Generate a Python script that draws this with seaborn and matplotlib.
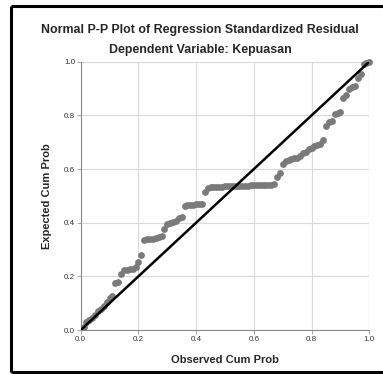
import numpy as np
import pandas as pd
import matplotlib
matplotlib.use("Agg")
import matplotlib.pyplot as plt
from matplotlib.lines import Line2D
import seaborn as sns

# observed vs expected cumulative probabilities
observed = [
    0.01, 0.02, 0.03, 0.04, 0.05, 0.06, 0.07, 0.08, 0.09, 0.10,
    0.11, 0.12, 0.13, 0.14, 0.15, 0.16, 0.17, 0.18, 0.19, 0.20,
    0.21, 0.22, 0.23, 0.24, 0.25, 0.26, 0.27, 0.28, 0.29, 0.30,
    0.31, 0.32, 0.33, 0.34, 0.35, 0.36, 0.37, 0.38, 0.39, 0.40,
    0.41, 0.42, 0.43, 0.44, 0.45, 0.46, 0.47, 0.48, 0.49, 0.50,
    0.51, 0.52, 0.53, 0.54, 0.55, 0.56, 0.57, 0.58, 0.59, 0.60,
    0.61, 0.62, 0.63, 0.64, 0.65, 0.66, 0.67, 0.68, 0.69, 0.70,
    0.71, 0.72, 0.73, 0.74, 0.75, 0.76, 0.77, 0.78, 0.79, 0.80,
    0.81, 0.82, 0.83, 0.84, 0.85, 0.86, 0.87, 0.88, 0.89, 0.90,
    0.91, 0.92, 0.93, 0.94, 0.95, 0.96, 0.97, 0.98, 0.99, 1.00,
]
expected = [
    0.010, 0.030, 0.037, 0.045, 0.055, 0.070, 0.080, 0.090, 0.105, 0.118,
    0.125, 0.175, 0.178, 0.210, 0.222, 0.225, 0.226, 0.228, 0.235, 0.255,
    0.280, 0.335, 0.338, 0.340, 0.340, 0.342, 0.345, 0.350, 0.375, 0.395,
    0.400, 0.402, 0.408, 0.418, 0.420, 0.463, 0.465, 0.466, 0.467, 0.468,
    0.470, 0.470, 0.515, 0.530, 0.532, 0.533, 0.533, 0.534, 0.534, 0.535,
    0.535, 0.535, 0.536, 0.536, 0.537, 0.537, 0.538, 0.538, 0.539, 0.539,
    0.540, 0.540, 0.541, 0.541, 0.542, 0.542, 0.545, 0.570, 0.585, 0.620,
    0.630, 0.635, 0.637, 0.640, 0.642, 0.650, 0.660, 0.665, 0.675, 0.680,
    0.685, 0.690, 0.695, 0.710, 0.760, 0.775, 0.780, 0.805, 0.810, 0.812,
    0.865, 0.875, 0.900, 0.905, 0.910, 0.940, 0.955, 0.990, 0.995, 1.000,
]
ref_line = [0.0, 1.0]
ticks = [0.0, 0.2, 0.4, 0.6, 0.8, 1.0]
tick_labels = ["0.0", "0.2", "0.4", "0.6", "0.8", "1.0"]

sns.set_theme(style="white")
plt.rcParams["font.family"] = ["Liberation Sans", "DejaVu Sans"]

df = pd.DataFrame({"observed": observed, "expected": expected})

fig = plt.figure(figsize=(3.83, 3.74), dpi=100)
ax = fig.add_axes([0.2107, 0.1176, 0.7536, 0.7174])

sns.scatterplot(data=df, x="observed", y="expected", ax=ax,
                color="#7a7a7a", s=24, linewidth=0, zorder=3, clip_on=False)
sns.lineplot(x=ref_line, y=ref_line, ax=ax, color="black",
             linewidth=1.8, zorder=4)

ax.set_xlim(0, 1)
ax.set_ylim(0, 1)
ax.set_xticks(ticks)
ax.set_yticks(ticks)
ax.set_xticklabels(tick_labels)
ax.set_yticklabels(tick_labels)
ax.grid(True, color="#d9d9d9", linewidth=0.8)
ax.set_axisbelow(True)
ax.tick_params(labelsize=5.8, colors="#333333", length=3, width=0.6,
               pad=1, bottom=True, left=True)
ax.tick_params(axis="both", color="#999999")
for side in ["top", "right"]:
    ax.spines[side].set_visible(False)
for side in ["left", "bottom"]:
    ax.spines[side].set_color("#888888")
    ax.spines[side].set_linewidth(0.8)

ax.set_xlabel("Observed Cum Prob", fontsize=8, fontweight="bold", labelpad=9)
ax.set_ylabel("Expected Cum Prob", fontsize=8, fontweight="bold", labelpad=9)

fig.text(200 / 383, 1 - 30 / 374, "Normal P-P Plot of Regression Standardized Residual",
         ha="center", va="center", fontsize=8.9, fontweight="bold")
fig.text(200 / 383, 1 - 50 / 374, "Dependent Variable: Kepuasan",
         ha="center", va="center", fontsize=8.9, fontweight="bold")

# outer frame: left, top and bottom edges only (runs off the right edge)
fx0, fy_top, fy_bot = 11 / 383, 1 - 5.5 / 374, 1 - 371.5 / 374
for xs, ys in [([fx0, fx0], [fy_bot, fy_top]),
               ([fx0, 1.05], [fy_top, fy_top]),
               ([fx0, 1.05], [fy_bot, fy_bot])]:
    fig.add_artist(Line2D(xs, ys, transform=fig.transFigure,
                          color="black", linewidth=2.2,
                          solid_capstyle="butt"))

fig.savefig("out.png", dpi=100)
